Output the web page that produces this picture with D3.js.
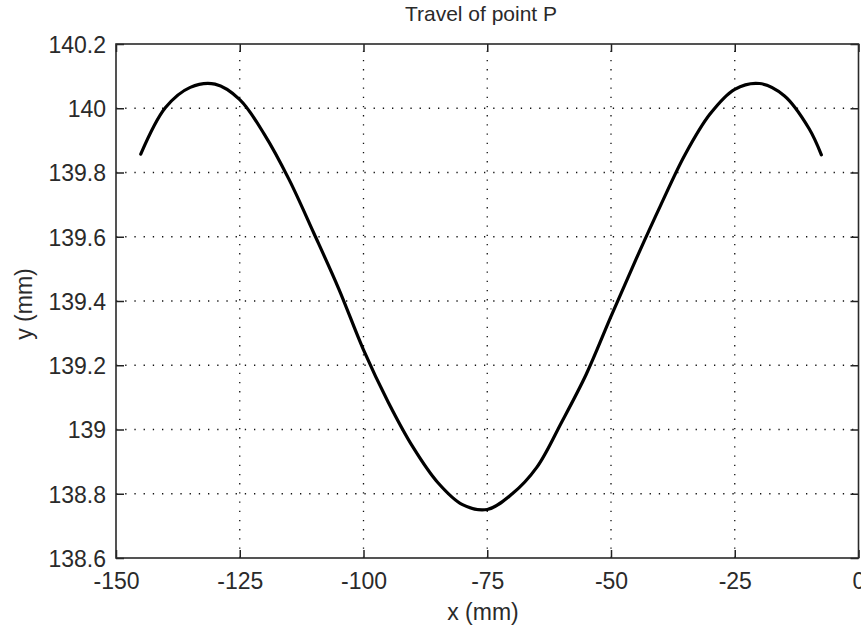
<!DOCTYPE html>
<html>
<head>
<meta charset="utf-8">
<script src="https://cdn.jsdelivr.net/npm/d3@7"></script>
<style>
  html, body { margin: 0; padding: 0; background: #fff; overflow: hidden; }
  text { font-family: "Liberation Sans", Arial, sans-serif; fill: #2a2a2a; }
</style>
</head>
<body>
<div id="container"></div>
<script>
const titleText = "Travel of point P";
const xLabel = "x (mm)";
const yLabel = "y (mm)";

const xTicks = [-150, -125, -100, -75, -50, -25, 0];
const yTicks = [138.6, 138.8, 139, 139.2, 139.4, 139.6, 139.8, 140, 140.2];

// curve every 5 mm
const xs = [-145, -140, -135, -130, -125, -120, -115, -110, -105, -100,
  -95, -90, -85, -80, -75, -70, -65, -60, -55, -50,
  -45, -40, -35, -30, -25, -20, -15, -10, -7.5];
const ys = [139.857, 140.002, 140.065, 140.075, 140.027, 139.918, 139.777, 139.610, 139.438, 139.248,
  139.085, 138.945, 138.835, 138.766, 138.751, 138.799, 138.882, 139.022, 139.172, 139.352,
  139.528, 139.697, 139.857, 139.982, 140.059, 140.077, 140.039, 139.937, 139.855];

const w = 861;
const h = 627;
const plotLeft = 116;
const plotRight = 858.5;
const plotTop = 44;
const plotBottom = 558;
const tickLen = 8;

const xScale = d3.scaleLinear().domain([-150, 0]).range([plotLeft, plotRight]);
const yScale = d3.scaleLinear().domain([138.6, 140.2]).range([plotBottom, plotTop]);

const svg = d3.select("#container")
  .append("svg")
  .attr("width", w)
  .attr("height", h);

// dotted grid
const grid = svg.append("g")
  .attr("stroke", "#111")
  .attr("stroke-width", 1.3)
  .attr("stroke-dasharray", "1.3,7.9");

grid.selectAll("line.gx")
  .data(xTicks.slice(1, -1))
  .enter()
  .append("line")
  .attr("class", "gx")
  .attr("x1", d => xScale(d))
  .attr("x2", d => xScale(d))
  .attr("y1", plotBottom)
  .attr("y2", plotTop);

grid.selectAll("line.gy")
  .data(yTicks.slice(1, -1))
  .enter()
  .append("line")
  .attr("class", "gy")
  .attr("x1", plotLeft)
  .attr("x2", plotRight)
  .attr("y1", d => yScale(d))
  .attr("y2", d => yScale(d));

// axes with inward ticks on all four sides
const xAxisBottom = d3.axisBottom(xScale).tickValues(xTicks).tickSize(-tickLen).tickPadding(tickLen + 7).tickFormat(d => String(d));
const xAxisTop = d3.axisTop(xScale).tickValues(xTicks).tickSize(-tickLen).tickFormat("");
const yAxisLeft = d3.axisLeft(yScale).tickValues(yTicks).tickSize(-tickLen).tickPadding(tickLen + 2).tickFormat(d => String(+d.toFixed(1)));
const yAxisRight = d3.axisRight(yScale).tickValues(yTicks).tickSize(-tickLen).tickFormat("");

const styleAxis = g => {
  g.select(".domain").remove();
  g.selectAll(".tick line").attr("stroke", "#222").attr("stroke-width", 1.5);
  g.selectAll(".tick text").attr("font-family", "Liberation Sans, Arial, sans-serif").attr("font-size", 23).attr("fill", "#2a2a2a");
};

svg.append("g").attr("transform", `translate(0,${plotBottom})`).call(xAxisBottom).call(styleAxis)
  .selectAll(".tick text").attr("dy", "0.71em");
svg.append("g").attr("transform", `translate(0,${plotTop})`).call(xAxisTop).call(styleAxis);
svg.append("g").attr("transform", `translate(${plotLeft},0)`).call(yAxisLeft).call(styleAxis)
  .selectAll(".tick text").attr("dy", "0.36em");
svg.append("g").attr("transform", `translate(${plotRight},0)`).call(yAxisRight).call(styleAxis);

// box
svg.append("rect")
  .attr("x", plotLeft)
  .attr("y", plotTop)
  .attr("width", plotRight - plotLeft)
  .attr("height", plotBottom - plotTop)
  .attr("fill", "none")
  .attr("stroke", "#2a2a2a")
  .attr("stroke-width", 1.6);

// curve
const line = d3.line()
  .x((d, i) => xScale(xs[i]))
  .y((d, i) => yScale(ys[i]))
  .curve(d3.curveCatmullRom);

svg.append("path")
  .datum(xs)
  .attr("d", line)
  .attr("fill", "none")
  .attr("stroke", "#000")
  .attr("stroke-width", 3.2)
  .attr("stroke-linejoin", "round")
  .attr("stroke-linecap", "round");

// labels
svg.append("text")
  .text(titleText)
  .attr("x", 481)
  .attr("y", 21)
  .attr("text-anchor", "middle")
  .style("font-size", "21px");

svg.append("text")
  .text(xLabel)
  .attr("x", 483)
  .attr("y", 620)
  .attr("text-anchor", "middle")
  .style("font-size", "23px");

svg.append("text")
  .text(yLabel)
  .attr("transform", `translate(32,${(plotTop + plotBottom) / 2 + 3})rotate(-90)`)
  .attr("text-anchor", "middle")
  .style("font-size", "23px");
</script>
</body>
</html>
